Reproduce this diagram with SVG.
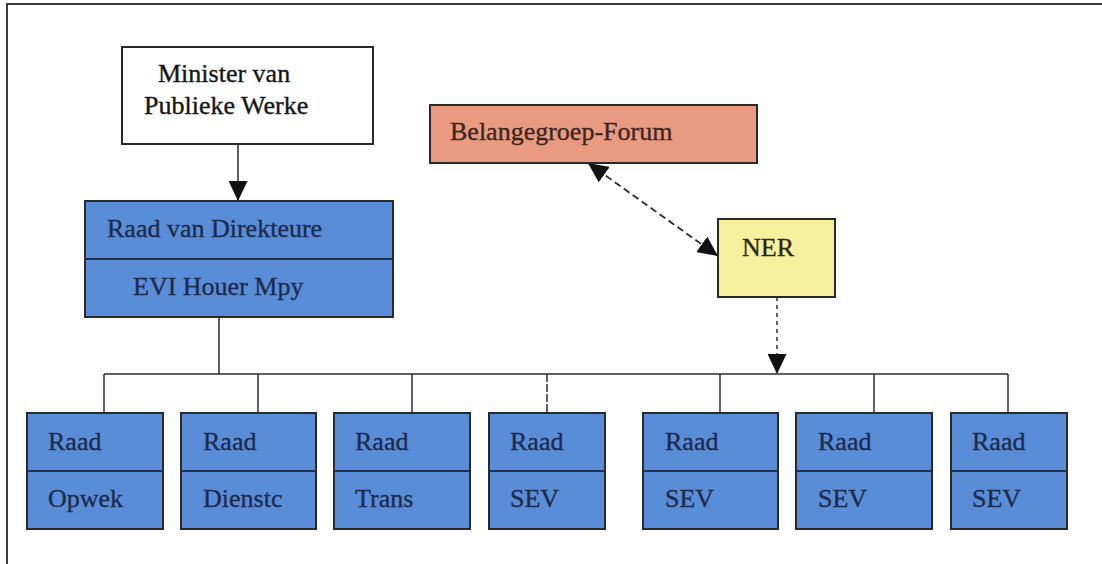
<svg xmlns="http://www.w3.org/2000/svg" width="1102" height="564" viewBox="0 0 1102 564">
  <style>
    .box { stroke: #2a2a2a; stroke-width: 2; }
    .blue { fill: #5a8dd8; }
    .pink { fill: #eb9a82; }
    .yellow { fill: #f6ef9c; }
    .white { fill: #ffffff; }
    .div { stroke: #1f2f4f; stroke-width: 2; fill: none; }
    .t { font-family: "Liberation Serif", "Times New Roman", serif; font-size: 26px; stroke-width: 0.35; }
    .tb { fill: #1d2b4c; stroke: #1d2b4c; }
    .tk { fill: #151515; stroke: #151515; }
    .tp { fill: #3b2722; stroke: #3b2722; }
    .tn { fill: #2d2a14; stroke: #2d2a14; }
    .wire { stroke: #2b2b2b; stroke-width: 1.5; fill: none; }
    .dash { stroke: #2b2b2b; stroke-width: 1.8; fill: none; stroke-dasharray: 7 4; }
    .dot { stroke: #3a3a3a; stroke-width: 1.6; fill: none; stroke-dasharray: 4 4; }
  </style>
  <defs>
    <marker id="head" markerUnits="userSpaceOnUse" markerWidth="20" markerHeight="19" refX="20" refY="9.5" orient="auto-start-reverse" viewBox="0 0 20 19">
      <path d="M0,0 L20,9.5 L0,19 z" fill="#111"/>
    </marker>
  </defs>

  <rect width="1102" height="564" fill="#ffffff"/>
  <!-- outer frame: left and top edges -->
  <path d="M7,564 V4 H1102" fill="none" stroke="#3c3c3c" stroke-width="2"/>

  <!-- connectors -->
  <g id="connectors">
    <line class="wire" x1="238" y1="144" x2="238" y2="201" marker-end="url(#head)"/>
    <line class="dash" x1="588" y1="163" x2="718" y2="256" marker-start="url(#head)" marker-end="url(#head)"/>
    <line class="dot" x1="777" y1="297" x2="777" y2="374" marker-end="url(#head)"/>
    <line class="wire" x1="219" y1="317" x2="219" y2="374"/>
    <line class="wire" x1="104" y1="374" x2="1008" y2="374"/>
    <line class="wire" x1="104" y1="374" x2="104" y2="413"/>
    <line class="wire" x1="258" y1="374" x2="258" y2="413"/>
    <line class="wire" x1="412" y1="374" x2="412" y2="413"/>
    <line class="wire" x1="547" y1="374" x2="547" y2="413" stroke-dasharray="8 2"/>
    <line class="wire" x1="720" y1="374" x2="720" y2="413"/>
    <line class="wire" x1="874" y1="374" x2="874" y2="413"/>
    <line class="wire" x1="1008" y1="374" x2="1008" y2="413"/>
  </g>

  <g id="minister">
    <rect class="box white" x="122" y="47" width="251" height="97"/>
    <text class="t tk" x="158" y="82">Minister van</text>
    <text class="t tk" x="144" y="114">Publieke Werke</text>
  </g>

  <g id="forum">
    <rect class="box pink" x="430" y="105" width="327" height="58"/>
    <text class="t tp" x="450" y="140">Belangegroep-Forum</text>
  </g>

  <g id="ner">
    <rect class="box yellow" x="718" y="219" width="117" height="78"/>
    <text class="t tn" x="742" y="256">NER</text>
  </g>

  <g id="direkteure">
    <rect class="box blue" x="85" y="201" width="308" height="116"/>
    <line class="div" x1="85" y1="259" x2="393" y2="259"/>
    <text class="t tb" x="107" y="237">Raad van Direkteure</text>
    <text class="t tb" x="133" y="295">EVI Houer Mpy</text>
  </g>

  <g id="raad-opwek">
    <rect class="box blue" x="27" y="413" width="136" height="116"/>
    <line class="div" x1="27" y1="471" x2="163" y2="471"/>
    <text class="t tb" x="48" y="450">Raad</text>
    <text class="t tb" x="48" y="507">Opwek</text>
  </g>

  <g id="raad-dienste">
    <rect class="box blue" x="181" y="413" width="135" height="116"/>
    <line class="div" x1="181" y1="471" x2="316" y2="471"/>
    <text class="t tb" x="203" y="450">Raad</text>
    <text class="t tb" x="203" y="507">Dienstc</text>
  </g>

  <g id="raad-trans">
    <rect class="box blue" x="334" y="413" width="136" height="116"/>
    <line class="div" x1="334" y1="471" x2="470" y2="471"/>
    <text class="t tb" x="355" y="450">Raad</text>
    <text class="t tb" x="355" y="507">Trans</text>
  </g>

  <g id="raad-sev-1">
    <rect class="box blue" x="489" y="413" width="116" height="116"/>
    <line class="div" x1="489" y1="471" x2="605" y2="471"/>
    <text class="t tb" x="510" y="450">Raad</text>
    <text class="t tb" x="510" y="507">SEV</text>
  </g>

  <g id="raad-sev-2">
    <rect class="box blue" x="643" y="413" width="135" height="116"/>
    <line class="div" x1="643" y1="471" x2="778" y2="471"/>
    <text class="t tb" x="665" y="450">Raad</text>
    <text class="t tb" x="665" y="507">SEV</text>
  </g>

  <g id="raad-sev-3">
    <rect class="box blue" x="796" y="413" width="136" height="116"/>
    <line class="div" x1="796" y1="471" x2="932" y2="471"/>
    <text class="t tb" x="818" y="450">Raad</text>
    <text class="t tb" x="818" y="507">SEV</text>
  </g>

  <g id="raad-sev-4">
    <rect class="box blue" x="951" y="413" width="116" height="116"/>
    <line class="div" x1="951" y1="471" x2="1067" y2="471"/>
    <text class="t tb" x="972" y="450">Raad</text>
    <text class="t tb" x="972" y="507">SEV</text>
  </g>
</svg>
